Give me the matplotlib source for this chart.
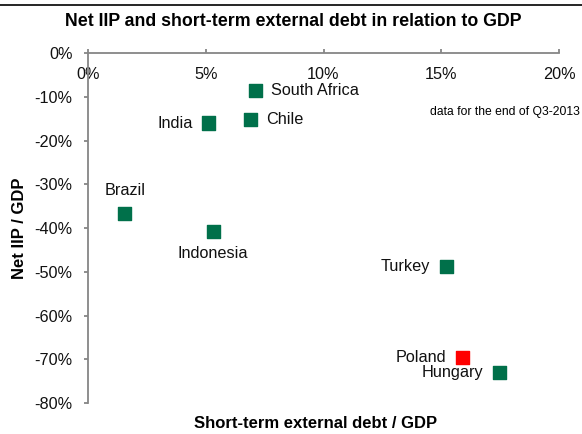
import matplotlib.pyplot as plt
from matplotlib.lines import Line2D
from matplotlib.ticker import PercentFormatter

# datos (en %)
paises = ['South Africa', 'India', 'Chile', 'Brazil', 'Indonesia', 'Turkey', 'Poland', 'Hungary']
deuda_cp = [7.13, 5.10, 6.92, 1.57, 5.31, 15.24, 15.92, 17.49]
iip_neta = [-8.5, -16.0, -15.1, -36.6, -40.7, -48.7, -69.7, -73.1]
colores = ['#00704A'] * 6 + ['#FF0000', '#00704A']

# donde va cada etiqueta (offset en puntos, alineacion)
offsets = {
    'South Africa': ((11, 0), 'left', 'center'),
    'India': ((-11, 0), 'right', 'center'),
    'Chile': ((11, 0), 'left', 'center'),
    'Brazil': ((0, 11), 'center', 'bottom'),
    'Indonesia': ((0, -11), 'center', 'top'),
    'Turkey': ((-12, 0), 'right', 'center'),
    'Poland': ((-12, 0), 'right', 'center'),
    'Hungary': ((-12, 0), 'right', 'center'),
}

plt.rcParams['font.family'] = ['Liberation Sans', 'DejaVu Sans']
plt.rcParams['axes.unicode_minus'] = False

fig = plt.figure(figsize=(5.82, 4.34), dpi=100)
W, H = 582, 434
ax = fig.add_axes([88 / W, 1 - 403 / H, (559 - 88) / W, (403 - 53) / H])

ax.scatter(deuda_cp, iip_neta, s=88, marker='s', c=colores, zorder=3)

for p, x, y in zip(paises, deuda_cp, iip_neta):
    off, ha, va = offsets[p]
    ax.annotate(p, (x, y), xytext=off, textcoords='offset points',
                ha=ha, va=va, fontsize=11.7, color='#111111')

ax.set_xlim(0, 20)
ax.set_ylim(-80, 0)
ax.set_xticks([0, 5, 10, 15, 20])
ax.set_yticks(range(-80, 1, 10))
ax.xaxis.set_major_formatter(PercentFormatter(decimals=0))
ax.yaxis.set_major_formatter(PercentFormatter(decimals=0))

gris = '#868686'
for s in ['right', 'bottom']:
    ax.spines[s].set_visible(False)
for s in ['top', 'left']:
    ax.spines[s].set_color(gris)
    ax.spines[s].set_linewidth(1.3)

ax.xaxis.tick_top()
ax.tick_params(axis='x', direction='out', length=3, width=1.3, color=gris,
               pad=-24, labelsize=11.7, labelcolor='#111111')
ax.tick_params(axis='y', direction='out', length=3, width=1.3, color=gris,
               pad=8, labelsize=11.7, labelcolor='#111111')

fig.text(20 / W, 1 - 228 / H, 'Net IIP / GDP', rotation=90, ha='center', va='center',
         fontsize=12, fontweight='bold')
fig.text(316 / W, 1 - 423 / H, 'Short-term external debt / GDP', ha='center', va='center',
         fontsize=12, fontweight='bold')
fig.text(580 / W, 1 - 112 / H, 'data for the end of Q3-2013', ha='right', va='center',
         fontsize=8.7)

fig.text(293 / W, 1 - 22 / H, 'Net IIP and short-term external debt in relation to GDP',
         ha='center', va='center', fontsize=12.8, fontweight='bold')
fig.add_artist(Line2D([0, 1], [1 - 5 / H, 1 - 5 / H], color='black', lw=1.2))

fig.savefig('out.png', dpi=100)
